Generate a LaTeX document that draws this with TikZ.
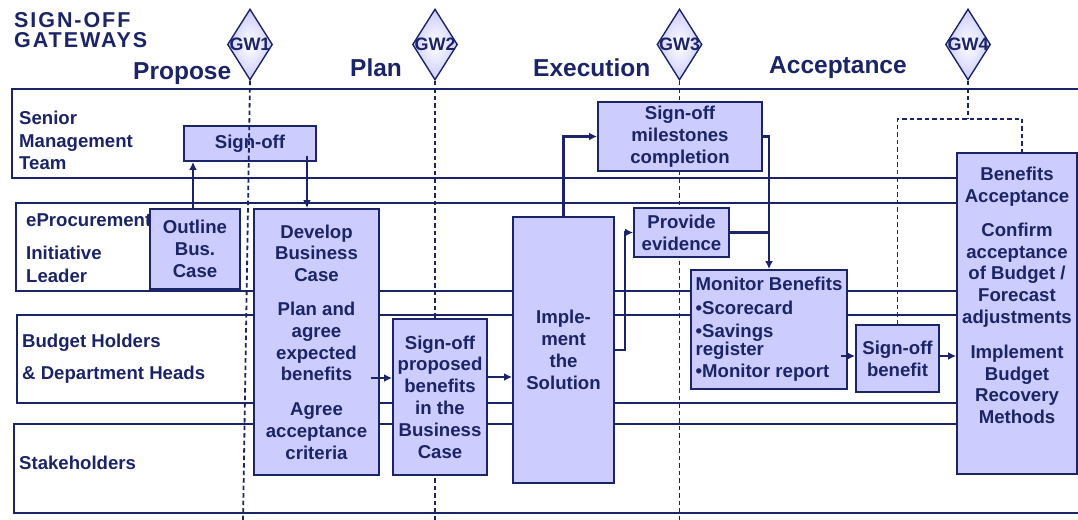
\documentclass[tikz,border=0pt]{standalone}
\usepackage{fontspec}
\setmainfont{Liberation Sans}
\newfontfamily\widefont[LetterSpace=9]{Liberation Sans}
\usepackage{tikz}
\usetikzlibrary{shapes,arrows.meta,positioning,calc}
\definecolor{navy}{HTML}{1B2466}
\definecolor{lilac}{HTML}{CCCCFF}
\newcommand{\mnode}[5]{
  \node[box,minimum width=#2,minimum height=#3] at #1 (#5) {#4};
}
\newcommand{\mgate}[3]{
  \node[gate] at #1 (#3) {\makebox[0pt]{#2}};
}
\tikzset{
  box/.style={draw=navy,fill=lilac,line width=1.9pt,inner sep=0pt,align=center,
    text=navy,font=\bfseries\fontsize{18.6}{21.8}\selectfont},
  boxtext/.style={inner sep=0pt,align=center,text=navy,font=\bfseries\fontsize{18.6}{21.8}\selectfont},
  gate/.style={diamond,draw=navy,line width=1.4pt,inner sep=0pt,minimum width=45,minimum height=71,
    inner color=white,outer color=lilac,text=navy,font=\bfseries\fontsize{18}{18}\selectfont},
  lane/.style={draw=navy,line width=1.9pt},
  lbl/.style={anchor=north west,inner sep=0pt,align=left,text=navy,font=\bfseries\fontsize{18.6}{22.5}\selectfont},
  phase/.style={anchor=base west,inner sep=0pt,text=navy,font=\bfseries\fontsize{24.5}{28}\selectfont},
  conn/.style={draw=navy,line width=2.1pt,->},
  link/.style={draw=navy,line width=2.1pt},
  gateline/.style={draw=navy,line width=1.8pt,dash pattern=on 4.5pt off 3pt},
}

\begin{document}
\begin{tikzpicture}[x=1pt,y=-1pt,>={Latex[length=8pt,width=8pt]}]
  \useasboundingbox (0,0) rectangle (1078,519);
  \clip (0,0) rectangle (1078,519);

  % title and phases
  \node[lbl,font=\widefont\bfseries\fontsize{21.5}{20}\selectfont] at (14,12.5) (title) {SIGN-OFF\\GATEWAYS};
  \node[phase] at (133,79) (ph-propose) {Propose};
  \node[phase] at (350,77) (ph-plan) {Plan};
  \node[phase] at (533,77) (ph-exec) {Execution};
  \node[phase] at (769,74) (ph-accept) {Acceptance};

  % swim lanes
  \draw[lane] (12,89) rectangle (1100,178);
  \draw[lane] (16,203) rectangle (1100,291);
  \draw[lane] (17,315) rectangle (1100,403);
  \draw[lane] (14,424) rectangle (1100,513);
  \node[lbl] at (19,111) (senior) {Senior\\Management\\Team};
  \node[lbl] at (26,214) (eproc) {eProcurement\\[10.5pt]Initiative\\Leader};
  \node[lbl] at (22,334) (budget) {Budget Holders\\[9.5pt]\& Department Heads};
  \node[lbl] at (19,456) (stake) {Stakeholders};

  % gateways
  \mgate{(250,44.5)}{GW1}{gw1}
  \mgate{(435,44.5)}{GW2}{gw2}
  \mgate{(679.5,44.5)}{GW3}{gw3}
  \mgate{(968,44.5)}{GW4}{gw4}
  \coordinate (bot) at (0,522);
  \coordinate (bot1) at (243,522);
  \draw[gateline] (gw2.south) -- (gw2.south |- bot);
  \draw[gateline] (gw3.south) -- (gw3.south |- bot);
  \draw[gateline] (gw4.south) -- ++(0,38) coordinate (g4);

  % activities
  \mnode{(250,143.5)}{132}{35}{Sign-off}{signoff}
  \mnode{(195,249)}{90}{80}{Outline\\Bus.\\Case}{outline}
  \mnode{(316.5,342)}{125}{266}{Develop\\Business\\Case\\[12pt]Plan and\\agree\\expected\\benefits\\[13pt]Agree\\acceptance\\criteria}{develop}
  \mnode{(440,397)}{94}{156}{Sign-off\\proposed\\benefits\\in the\\Business\\Case}{proposal}
  \mnode{(563.5,350)}{101}{266}{Imple-\\ment\\the\\Solution}{implement}
  \mnode{(680,136.5)}{164}{69}{Sign-off\\milestones\\completion}{milestones}
  \mnode{(681.5,232.5)}{95}{49}{Provide\\evidence}{evidence}
  \node[box,align=left,minimum width=156,minimum height=119] at (769,329.5) (monitor)
    {Monitor Benefits\\[2pt]•Scorecard\\[1pt]•Savings\\[-4pt]register\\[1pt]•Monitor report};
  \mnode{(897.5,358.5)}{83}{67}{Sign-off\\benefit}{benefit}
  \mnode{(1017,313.5)}{120}{321}{}{accept}
  \node[boxtext,anchor=north] at ([yshift=-15pt]accept.north) (accept-text)
    {Benefits\\Acceptance\\[12pt]Confirm\\acceptance\\of Budget /\\Forecast\\adjustments\\[13pt]Implement\\Budget\\Recovery\\Methods};

  % flow
  \draw[conn] ([xshift=-2pt]outline.north) -- ([xshift=-2pt]outline.north |- signoff.south);
  \draw[conn] ([xshift=57pt,yshift=6pt]signoff.south) -- ([xshift=57pt]signoff.south |- develop.north);
  \draw[conn] ([xshift=-9pt,yshift=-36pt]develop.east) -- ([yshift=-36pt]develop.east -| proposal.west);
  \draw[conn] ([yshift=20pt]proposal.east) -- ([yshift=20pt]proposal.east -| implement.west);
  \draw[conn] (implement.north) |- (milestones.west);
  \draw[conn] (implement.east) -- ++(10,0) |- (evidence.west);
  \draw[conn] (milestones.east) -| (monitor.north);
  \draw[link] (evidence.east) -- (evidence.east -| monitor.north);
  \draw[conn] ([xshift=-7pt,yshift=-26.5pt]monitor.east) -- ([yshift=-26.5pt]monitor.east -| benefit.west);
  \draw[conn] ([yshift=2.5pt]benefit.east) -- ([yshift=2.5pt]benefit.east -| accept.west);

  % gateway lines on top
  \draw[gateline] (benefit.north) |- (g4) -| ([xshift=5pt]accept.north);
  \draw[gateline] (gw1.south) -- (bot1);
\end{tikzpicture}
\end{document}
